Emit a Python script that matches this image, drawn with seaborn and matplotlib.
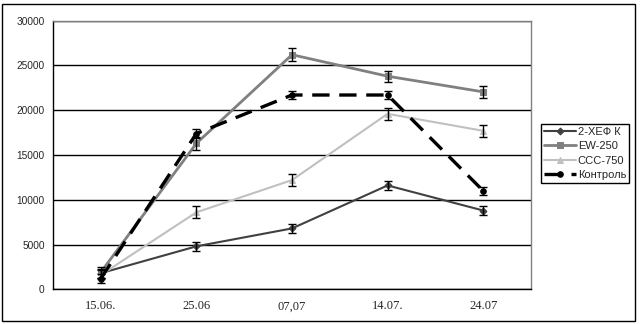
import matplotlib
matplotlib.use("Agg")
import matplotlib.pyplot as plt
import seaborn as sns
import pandas as pd
import numpy as np
from matplotlib.patches import Rectangle

dates = ["15.06.", "25.06", "07,07", "14.07.", "24.07"]
series_names = ["2-ХЕФ К", "EW-250", "CCC-750", "Контроль"]
hef = [1800, 4800, 6800, 11600, 8800]
ew = [1900, 16300, 26200, 23800, 22050]
ccc = [1600, 8600, 12200, 19600, 17700]
control = [1200, 17400, 21700, 21700, 11000]
hef_err = [500, 500, 500, 500, 500]
ew_err = [600, 700, 700, 600, 700]
ccc_err = [500, 650, 650, 650, 650]
control_err = [500, 500, 450, 450, 450]

values = [hef, ew, ccc, control]
errors = [hef_err, ew_err, ccc_err, control_err]
colors = ["#404040", "#808080", "#c0c0c0", "#000000"]
markers = ["D", "s", "^", "o"]
msizes = [3.5, 4, 4.5, 4]
lws = [1.5, 2.0, 1.5, 2.4]

rows = []
for name, vals in zip(series_names, values):
    for i, v in enumerate(vals):
        rows.append({"pos": i, "date": dates[i], "value": v, "series": name})
df = pd.DataFrame(rows)

sns.set_style("white")
plt.rcParams["font.family"] = ["Liberation Sans", "DejaVu Sans"]

fig = plt.figure(figsize=(6.42, 3.24), dpi=100)
ax = fig.add_axes([53/642, (324-289.3)/324, (531-53)/642, (289.3-20.7)/324])

for k, name in enumerate(series_names):
    sub = df[df["series"] == name]
    ls = (0, (5.2, 2.9)) if name == "Контроль" else "-"
    sns.lineplot(data=sub, x="pos", y="value", ax=ax, color=colors[k],
                 marker=markers[k], markersize=msizes[k], linewidth=lws[k],
                 markeredgecolor=colors[k], linestyle=ls, label=name,
                 errorbar=None, zorder=3)
    ax.errorbar(sub["pos"], sub["value"], yerr=errors[k], fmt="none",
                ecolor="black", elinewidth=1, capsize=3, capthick=1, zorder=4)

ax.set_xlim(-0.5, 4.5)
ax.set_ylim(0, 30000)
ax.set_yticks(np.arange(0, 30001, 5000))
ax.set_yticklabels([str(int(v)) for v in np.arange(0, 30001, 5000)], fontsize=7.3)
ax.set_xticks(range(5))
ax.set_xticklabels(dates, fontsize=9, family=["Liberation Serif"])
ax.set_xticks(np.arange(-0.5, 4.6, 1), minor=True)
ax.tick_params(axis="x", which="major", length=0, pad=8)
ax.tick_params(axis="x", which="minor", length=4, direction="out", width=1, color="black")
ax.tick_params(axis="y", length=4, direction="out", width=1, color="black", pad=2)
ax.set_xlabel("")
ax.set_ylabel("")
ax.grid(axis="y", color="black", linewidth=1)
ax.set_axisbelow(True)
for s in ["top", "right"]:
    ax.spines[s].set_color("#808080")
    ax.spines[s].set_linewidth(1)
for s in ["left", "bottom"]:
    ax.spines[s].set_color("black")
    ax.spines[s].set_linewidth(1)
    ax.spines[s].set_visible(True)

handles, labels = ax.get_legend_handles_labels()
ax.legend_.remove()
leg = fig.legend(handles, labels, loc="upper left", bbox_to_anchor=(541/642, (324-124)/324),
                 borderaxespad=0, fontsize=8, frameon=True, fancybox=False,
                 edgecolor="black", framealpha=1, handlelength=2.9, handletextpad=0.15,
                 labelspacing=0.4, borderpad=0.25)
leg.get_frame().set_linewidth(1)

fig.patches.append(Rectangle((2/642, 3/324), 633/642, 317/324, transform=fig.transFigure,
                             fill=False, edgecolor="black", linewidth=1))

fig.savefig("out.png", dpi=100)
